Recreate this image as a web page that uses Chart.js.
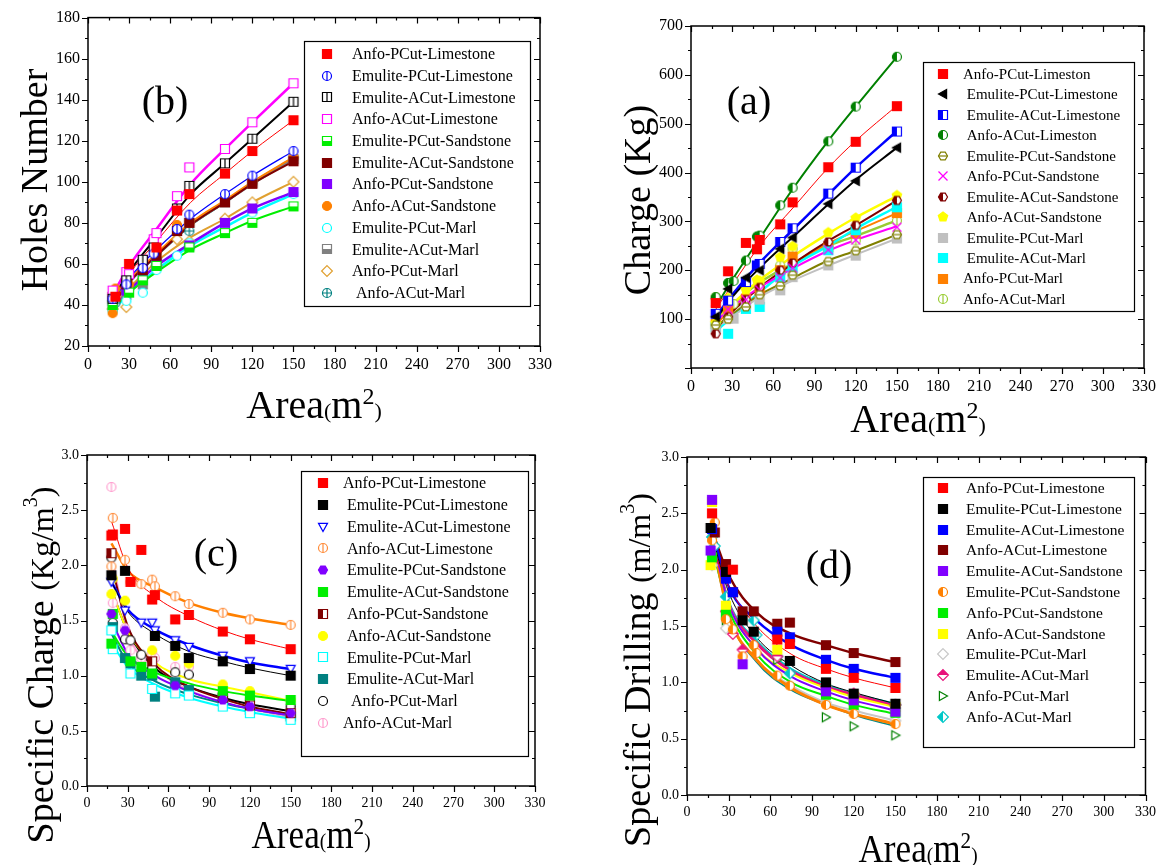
<!DOCTYPE html>
<html><head><meta charset="utf-8">
<script src="https://cdn.jsdelivr.net/npm/chart.js@4/dist/chart.umd.min.js"></script>
<style>
html,body{margin:0;padding:0;background:#fff;}
#wrap{position:relative;width:1165px;height:865px;overflow:hidden;background:#fff;}
canvas{position:absolute;left:0;top:0;width:1165px;height:865px;}
</style></head><body>
<div id="wrap">
<canvas id="cb" width="1165" height="865"></canvas>
<canvas id="ca" width="1165" height="865"></canvas>
<canvas id="cc" width="1165" height="865"></canvas>
<canvas id="cd" width="1165" height="865"></canvas>
</div>
<script>
// ---------------- shared ----------------
const FONT = '"Liberation Serif", "Times New Roman", serif';
const fitX = [18, 30, 50, 75, 100, 120, 150];
const xTickVals = [0, 15, 30, 45, 60, 75, 90, 105, 120, 135, 150, 165, 180, 195, 210, 225, 240, 255, 270, 285, 300, 315, 330];

// ---------------- (b) Holes Number ----------------
const bNames = ['Anfo-PCut-Limestone', 'Emulite-PCut-Limestone', 'Emulite-ACut-Limestone', 'Anfo-ACut-Limestone',
  'Emulite-PCut-Sandstone', 'Emulite-ACut-Sandstone', 'Anfo-PCut-Sandstone', 'Anfo-ACut-Sandstone',
  'Emulite-PCut-Marl', 'Emulite-ACut-Marl', 'Anfo-PCut-Marl', ' Anfo-ACut-Marl'];
const bX = [18, 20, 28, 30, 40, 48, 50, 65, 74, 100, 120, 150];
const bAnfoPCutLimestone     = [null, 44, null, 60, null, null, 68, 86, 94, 104, 115, 130];
const bEmulitePCutLimestone  = [43, null, 50, null, 58, 65, null, 77, 84, 94, 103, 115];
const bEmuliteACutLimestone  = [43, null, 52, null, 62, 68, null, 87, 98, 109, 121, 139];
const bAnfoACutLimestone     = [47, null, 56, 55, 62, 72, 75, 93, 107, 116, 129, 148];
const bEmulitePCutSandstone  = [40, null, null, 46, 52, null, 59, null, 68, 75, 80, 88];
const bEmuliteACutSandstone  = [44, null, 50, null, 57, null, 64, 76, 80, 90, 99, 110];
const bAnfoPCutSandstone     = [42, null, 47, null, 55, null, 60, null, 69, 80, 87, 95];
const bAnfoACutSandstone     = [36, 48, null, 50, 56, null, 65, 79, 80, 91, 100, 112];
const bEmulitePCutMarl       = [37, null, 42, null, 46, null, 57, 64, 70, 78, 85, 94];
const bEmuliteACutMarl       = [40, null, 45, null, 50, null, 61, 76, 80, 90, 99.5, 111];
const bAnfoPCutMarl          = [38, null, 39, null, null, null, 59, 72, 71, 82, 90, 100];
const bAnfoACutMarl          = [38, 41, null, 48, 53, 69, 62, 76, 76, 91, 99.5, 111.6];
const bFitAnfoPCutLimestone    = [42, 55, 71, 90, 104, 115, 130];
const bFitEmulitePCutLimestone = [42, 53, 67, 82, 94, 103, 115];
const bFitEmuliteACutLimestone = [43, 56, 73, 94, 109, 121, 139];
const bFitAnfoACutLimestone    = [45, 59, 77, 99, 116, 129, 148];
const bFitEmulitePCutSandstone = [38, 46, 56, 67, 75, 81, 88];
const bFitEmuliteACutSandstone = [40, 51, 64, 79, 90, 99, 110];
const bFitAnfoPCutSandstone    = [38, 47, 59, 70, 80, 87, 95];
const bFitAnfoACutSandstone    = [41, 52, 65, 80, 91, 100, 112];
const bFitEmulitePCutMarl      = [37, 46, 57, 69, 78, 85, 94];
const bFitEmuliteACutMarl      = [40, 51, 64, 79, 90, 99, 111];
const bFitAnfoPCutMarl         = [38, 48, 61, 73, 82, 90, 100];
const bFitAnfoACutMarl         = [40, 51, 64, 79, 90, 99.5, 111.5];
const bYTicks = [20, 30, 40, 50, 60, 70, 80, 90, 100, 110, 120, 130, 140, 150, 160, 170, 180];

// ---------------- (a) Charge ----------------
const aNames = ['Anfo-PCut-Limeston', ' Emulite-PCut-Limestone', ' Emulite-ACut-Limestone', ' Anfo-ACut-Limeston',
  ' Emulite-PCut-Sandstone', ' Anfo-PCut-Sandstone', ' Emulite-ACut-Sandstone', ' Anfo-ACut-Sandstone',
  ' Emulite-PCut-Marl', ' Emulite-ACut-Marl', 'Anfo-PCut-Marl', 'Anfo-ACut-Marl'];
const aX = [18, 27, 31, 40, 48, 50, 65, 74, 100, 120, 150];
const aAnfoPCutLimeston      = [133, 198, null, 256, 243, 262, 294, 339, 411, 463, 536];
const aEmulitePCutLimestone  = [105, 162, null, 185, null, 200, 244, 267, 336, 383, 451];
const aEmuliteACutLimestone  = [111, 138, null, 176, 210, 213, 258, 286, 357, 410, 484];
const aAnfoACutLimeston      = [145, 174, 178, 220, 269, 271, 333, 369, 464, 535, 637];
const aEmulitePCutSandstone  = [88, 100, null, 125, null, 150, 168, 190, 218, 240, 273];
const aAnfoPCutSandstone     = [135, 120, null, 140, null, 160, 185, 205, 242, 262, 288];
const aEmuliteACutSandstone  = [70, 105, null, 140, null, 165, 200, 215, 258, 292, 343];
const aAnfoACutSandstone     = [92, 143, null, 160, 180, 178, 227, 249, 277, 307, 353];
const aEmulitePCutMarl       = [80, 101, 101, 130, null, 140, 159, 186, 210, 230, 265];
const aEmuliteACutMarl       = [84, 70, null, 121, null, 125, 186, 203, 241, 282, 329];
const aAnfoPCutMarl          = [90, 118, null, 142, null, 159, 200, 228, 247, 275, 317];
const aAnfoACutMarl          = [145, 123, 131, 140, null, 174, 210, 244, 249, 261, 302];
const aFitAnfoPCutLimeston     = [120, 170, 250, 330, 410, 465, 537];
const aFitEmulitePCutLimestone = [100, 145, 205, 270, 335, 385, 451];
const aFitEmuliteACutLimestone = [105, 150, 215, 285, 355, 410, 485];
const aFitAnfoACutLimeston     = [125, 180, 265, 370, 465, 535, 637];
const aFitEmulitePCutSandstone = [85, 110, 150, 185, 220, 240, 273];
const aFitAnfoPCutSandstone    = [95, 125, 165, 205, 240, 262, 290];
const aFitEmuliteACutSandstone = [80, 115, 165, 215, 260, 292, 343];
const aFitAnfoACutSandstone    = [95, 130, 180, 230, 275, 308, 352];
const aFitEmulitePCutMarl      = [82, 105, 145, 180, 210, 232, 265];
const aFitEmuliteACutMarl      = [75, 105, 155, 210, 250, 285, 330];
const aFitAnfoPCutMarl         = [90, 120, 165, 215, 255, 280, 317];
const aFitAnfoACutMarl         = [100, 130, 175, 215, 250, 270, 302];
const aYTicks = [0, 50, 100, 150, 200, 250, 300, 350, 400, 450, 500, 550, 600, 650, 700];

// ---------------- (c) Specific Charge ----------------
const cNames = ['Anfo-PCut-Limestone', ' Emulite-PCut-Limestone', ' Emulite-ACut-Limestone', ' Anfo-ACut-Limestone',
  ' Emulite-PCut-Sandstone', ' Emulite-ACut-Sandstone', ' Anfo-PCut-Sandstone', ' Anfo-ACut-Sandstone',
  ' Emulite-PCut-Marl', ' Emulite-ACut-Marl', '  Anfo-PCut-Marl', 'Anfo-ACut-Marl'];
const cX = [18, 19, 28, 32, 40, 48, 50, 65, 75, 100, 120, 150];
const cAnfoPCutLimestone     = [2.27, 2.28, 2.33, 1.85, 2.14, 1.69, 1.73, 1.51, 1.55, 1.40, 1.33, 1.24];
const cEmulitePCutLimestone  = [1.91, null, 1.95, null, null, null, 1.36, 1.27, 1.16, 1.13, 1.06, 1.00];
const cEmuliteACutLimestone  = [1.85, null, 1.59, null, 1.48, 1.48, 1.41, 1.32, 1.26, 1.18, 1.13, 1.06];
const cAnfoACutLimestone     = [1.99, 2.43, 2.05, 1.85, 1.83, 1.87, 1.81, 1.72, 1.65, 1.57, 1.51, 1.46];
const cEmulitePCutSandstone  = [1.56, null, 1.41, null, null, null, null, 0.91, null, 0.78, 0.72, 0.66];
const cEmuliteACutSandstone  = [1.29, 1.56, null, 1.13, 1.08, 1.02, null, null, null, 0.86, 0.82, 0.78];
const cAnfoPCutSandstone     = [2.11, null, null, null, null, 1.13, null, null, null, 0.80, 0.73, 0.66];
const cAnfoACutSandstone     = [1.74, 1.88, 1.68, null, null, 1.23, null, 1.18, 1.11, 0.92, 0.86, 0.78];
const cEmulitePCutMarl       = [1.41, 1.24, null, 1.02, null, 0.88, null, 0.84, 0.82, 0.72, 0.66, 0.60];
const cEmuliteACutMarl       = [null, 1.44, 1.16, 1.11, 1.00, 1.00, 0.81, 0.94, 0.87, 0.77, 0.69, 0.63];
const cAnfoPCutMarl          = [2.07, 1.48, 1.33, 1.32, 1.19, 1.07, null, 1.03, 1.01, 0.83, 0.78, 0.72];
const cAnfoACutMarl          = [2.71, 1.66, 1.43, 1.23, 1.16, 1.20, 1.16, 1.08, 1.08, 0.82, 0.75, 0.67];
const cFitAnfoPCutLimestone    = [2.40, 1.98, 1.72, 1.54, 1.41, 1.33, 1.24];
const cFitEmulitePCutLimestone = [1.85, 1.58, 1.38, 1.22, 1.13, 1.07, 1.00];
const cFitEmuliteACutLimestone = [1.85, 1.60, 1.42, 1.28, 1.18, 1.12, 1.06];
const cFitAnfoACutLimestone    = [2.20, 1.95, 1.80, 1.66, 1.57, 1.52, 1.46];
const cFitEmulitePCutSandstone = [1.50, 1.20, 1.00, 0.86, 0.76, 0.70, 0.64];
const cFitEmuliteACutSandstone = [1.40, 1.18, 1.03, 0.93, 0.86, 0.82, 0.77];
const cFitAnfoPCutSandstone    = [2.00, 1.45, 1.10, 0.90, 0.79, 0.72, 0.65];
const cFitAnfoACutSandstone    = [1.78, 1.40, 1.12, 0.97, 0.90, 0.85, 0.77];
const cFitEmulitePCutMarl      = [1.30, 1.08, 0.92, 0.80, 0.72, 0.67, 0.61];
const cFitEmuliteACutMarl      = [1.38, 1.12, 0.95, 0.83, 0.75, 0.70, 0.64];
const cFitAnfoPCutMarl         = [1.78, 1.40, 1.07, 0.90, 0.80, 0.74, 0.68];
const cFitAnfoACutMarl         = [2.10, 1.40, 1.07, 0.87, 0.76, 0.70, 0.62];
const sYTicks = [0, 0.25, 0.5, 0.75, 1, 1.25, 1.5, 1.75, 2, 2.25, 2.5, 2.75, 3];

// ---------------- (d) Specific Drilling ----------------
const dNames = ['Anfo-PCut-Limestone', 'Emulite-PCut-Limestone', 'Emulite-ACut-Limestone', 'Anfo-ACut-Limestone',
  'Emulite-ACut-Sandstone', 'Emulite-PCut-Sandstone', 'Anfo-PCut-Sandstone', 'Anfo-ACut-Sandstone',
  'Emulite-PCut-Marl', 'Emulite-ACut-Marl', 'Anfo-PCut-Marl', 'Anfo-ACut-Marl'];
const dX = [17, 18, 20, 28, 33, 40, 48, 50, 65, 74, 100, 120, 150];
const dAnfoPCutLimestone     = [null, 2.50, null, null, 2.00, null, null, null, 1.38, 1.34, 1.12, 1.04, 0.95];
const dEmulitePCutLimestone  = [2.37, null, null, 1.98, null, 1.55, 1.45, null, null, 1.19, 1.00, 0.90, 0.81];
const dEmuliteACutLimestone  = [null, 2.36, null, 1.92, 1.80, null, null, null, 1.45, 1.40, 1.20, 1.12, 1.04];
const dAnfoACutLimestone     = [null, null, 2.33, 2.05, 1.80, 1.63, 1.63, null, 1.52, 1.53, 1.33, 1.26, 1.18];
const dEmuliteACutSandstone  = [2.17, 2.62, null, null, null, 1.16, null, null, null, null, 0.92, 0.84, 0.74];
const dEmulitePCutSandstone  = [null, 2.26, 2.42, 1.56, 1.47, 1.23, 1.33, 1.26, 1.06, 0.97, 0.80, 0.72, 0.63];
const dAnfoPCutSandstone     = [null, 2.11, null, 1.60, null, null, null, null, null, null, 0.89, 0.80, 0.73];
const dAnfoACutSandstone     = [2.04, 2.60, null, 1.68, null, null, null, null, 1.29, null, 0.95, 0.87, 0.78];
const dEmulitePCutMarl       = [null, 2.04, null, 1.48, null, null, null, null, null, null, 0.82, 0.75, 0.66];
const dEmuliteACutMarl       = [null, null, null, 1.63, 1.43, 1.29, null, null, 1.23, null, 0.96, 0.90, 0.80];
const dAnfoPCutMarl          = [null, null, null, 1.55, null, null, null, null, 1.20, null, 0.69, 0.61, 0.53];
const dAnfoACutMarl          = [null, 2.29, 2.21, 1.76, null, null, 1.55, 1.42, 1.23, 1.08, 0.97, 0.89, 0.80];
const dFitAnfoPCutLimestone    = [2.20, 1.85, 1.50, 1.25, 1.12, 1.04, 0.95];
const dFitEmulitePCutLimestone = [2.30, 1.80, 1.40, 1.15, 0.99, 0.91, 0.81];
const dFitEmuliteACutLimestone = [2.35, 1.85, 1.55, 1.33, 1.20, 1.12, 1.04];
const dFitAnfoACutLimestone    = [2.35, 1.95, 1.62, 1.43, 1.33, 1.26, 1.18];
const dFitEmuliteACutSandstone = [2.30, 1.70, 1.30, 1.05, 0.92, 0.84, 0.75];
const dFitEmulitePCutSandstone = [2.30, 1.60, 1.20, 0.95, 0.80, 0.72, 0.63];
const dFitAnfoPCutSandstone    = [2.20, 1.65, 1.25, 1.00, 0.88, 0.80, 0.72];
const dFitAnfoACutSandstone    = [2.30, 1.70, 1.30, 1.08, 0.95, 0.87, 0.78];
const dFitEmulitePCutMarl      = [2.25, 1.60, 1.20, 0.97, 0.82, 0.75, 0.66];
const dFitEmuliteACutMarl      = [2.30, 1.70, 1.35, 1.10, 0.96, 0.89, 0.79];
const dFitAnfoPCutMarl         = [2.30, 1.60, 1.18, 0.93, 0.80, 0.71, 0.61];
const dFitAnfoACutMarl         = [2.30, 1.72, 1.37, 1.12, 0.98, 0.90, 0.81];

// ---------------- styles ----------------
const bStyles = [
  {m:['sq','f',''], c:'#ff0000', lw:1}, {m:['ci','o','v'], c:'#0000ff', lw:1.2},
  {m:['sq','o','v'], c:'#000000', lw:2}, {m:['sq','o',''], c:'#ff00ff', lw:2.5},
  {m:['sq','hB',''], c:'#00ee00', lw:2}, {m:['sq','f',''], c:'#800000', lw:2},
  {m:['sq','f',''], c:'#8000ff', lw:2.5}, {m:['ci','f',''], c:'#ff8000', lw:2},
  {m:['ci','o',''], c:'#00ffff', lw:2.5}, {m:['sq','hB',''], c:'#808080', lw:2.5},
  {m:['di','o',''], c:'#e0a030', lw:2}, {m:['ci','o','vh'], c:'#008080', lw:2.5}];
const aStyles = [
  {m:['sq','f',''], c:'#ff0000', lw:1}, {m:['tL','f',''], c:'#000000', lw:2},
  {m:['sq','hL',''], c:'#0000ff', lw:2.5}, {m:['ci','hL',''], c:'#008000', lw:2},
  {m:['hex','o','h'], c:'#808000', lw:2}, {m:['x','o',''], c:'#ff00ff', lw:2},
  {m:['hex','hL',''], c:'#800000', lw:2}, {m:['pent','f',''], c:'#ffff00', lw:2.5},
  {m:['sq','f',''], c:'#c0c0c0', lw:2}, {m:['sq','f',''], c:'#00ffff', lw:2.5},
  {m:['sq','f',''], c:'#ff8000', lw:2}, {m:['ci','o','v'], c:'#99cc33', lw:2.5}];
const cStyles = [
  {m:['sq','f',''], c:'#ff0000', lw:1}, {m:['sq','f',''], c:'#000000', lw:1},
  {m:['tD','o',''], c:'#0000ff', lw:2.5}, {m:['ci','o','v'], c:'#ff8c3a', lc:'#ff8000', lw:2.5},
  {m:['hex','f',''], c:'#8000ff', lw:2}, {m:['sq','f',''], c:'#00ee00', lw:2},
  {m:['sq','hL',''], c:'#800000', lw:2}, {m:['ci','f',''], c:'#ffff00', lw:2},
  {m:['sq','o',''], c:'#00ffff', lw:2}, {m:['sq','f',''], c:'#008080', lw:2},
  {m:['ci','o',''], c:'#000000', lw:2}, {m:['ci','o','v'], c:'#ff9ecf', lw:2}];
const dStyles = [
  {m:['sq','f',''], c:'#ff0000', lw:1}, {m:['sq','f',''], c:'#000000', lw:1},
  {m:['sq','f',''], c:'#0000ff', lw:2.5}, {m:['sq','f',''], c:'#800000', lw:2.5},
  {m:['sq','f',''], c:'#8000ff', lw:2}, {m:['ci','hL',''], c:'#ff8000', lw:3},
  {m:['sq','f',''], c:'#00ee00', lw:2}, {m:['sq','f',''], c:'#ffff00', lw:2},
  {m:['di','o',''], c:'#c8c8c8', lw:2}, {m:['di','hT',''], c:'#e8127c', lw:3},
  {m:['tR','o',''], c:'#008000', lc:'#008b8b', lw:1.5}, {m:['di','hL',''], c:'#00c8c8', lw:2}];

// ---------------- helpers ----------------
function makeMarker(spec, color, size) {
  const [shape, fill, deco] = spec;
  size = size || 9;
  const S = Math.ceil(size + 5);
  const c = document.createElement('canvas');
  c.width = S; c.height = S;
  const g = c.getContext('2d');
  const cx = S / 2, cy = S / 2, r = size / 2;
  const path = () => {
    g.beginPath();
    if (shape === 'sq') g.rect(cx - r, cy - r, 2 * r, 2 * r);
    else if (shape === 'ci') g.arc(cx, cy, r, 0, Math.PI * 2);
    else if (shape === 'di') { const q = r * 1.2; g.moveTo(cx, cy - q); g.lineTo(cx + q, cy); g.lineTo(cx, cy + q); g.lineTo(cx - q, cy); g.closePath(); }
    else if (shape === 'tD') { g.moveTo(cx - r, cy - r * 0.8); g.lineTo(cx + r, cy - r * 0.8); g.lineTo(cx, cy + r); g.closePath(); }
    else if (shape === 'tL') { g.moveTo(cx - r, cy); g.lineTo(cx + r * 0.8, cy - r); g.lineTo(cx + r * 0.8, cy + r); g.closePath(); }
    else if (shape === 'tR') { g.moveTo(cx + r, cy); g.lineTo(cx - r * 0.8, cy - r); g.lineTo(cx - r * 0.8, cy + r); g.closePath(); }
    else if (shape === 'hex') { for (let i = 0; i < 6; i++) { const a = Math.PI / 3 * i; const px = cx + r * Math.cos(a), py = cy + r * Math.sin(a); if (i) g.lineTo(px, py); else g.moveTo(px, py); } g.closePath(); }
    else if (shape === 'pent') { for (let i = 0; i < 5; i++) { const a = -Math.PI / 2 + 2 * Math.PI / 5 * i; const px = cx + r * 1.1 * Math.cos(a), py = cy + r * 1.1 * Math.sin(a); if (i) g.lineTo(px, py); else g.moveTo(px, py); } g.closePath(); }
  };
  g.lineWidth = 1.2; g.strokeStyle = color;
  if (shape === 'x') {
    g.lineWidth = 1.3; g.beginPath();
    g.moveTo(cx - r, cy - r); g.lineTo(cx + r, cy + r); g.moveTo(cx + r, cy - r); g.lineTo(cx - r, cy + r);
    g.stroke(); return c;
  }
  path();
  if (fill === 'f') { g.fillStyle = color; g.fill(); }
  else {
    g.fillStyle = '#fff'; g.fill();
    if (fill !== 'o') {
      g.save(); path(); g.clip(); g.fillStyle = color;
      if (fill === 'hL') g.fillRect(0, 0, cx, S);
      if (fill === 'hR') g.fillRect(cx, 0, S, S);
      if (fill === 'hT') g.fillRect(0, 0, S, cy);
      if (fill === 'hB') g.fillRect(0, cy, S, S);
      g.restore();
    }
  }
  path(); g.stroke();
  if (deco) {
    g.beginPath();
    if (deco.includes('v')) { g.moveTo(cx, cy - r); g.lineTo(cx, cy + r); }
    if (deco.includes('h')) { g.moveTo(cx - r, cy); g.lineTo(cx + r, cy); }
    g.stroke();
  }
  return c;
}

function buildDatasets(X, ys, fits, styles, names) {
  const ds = [], legendItems = [];
  ys.forEach((Y, i) => {
    const st = styles[i];
    const img = makeMarker(st.m, st.c, 9);
    legendItems.push({img, text: names[i]});
    const pts = [];
    X.forEach((x, k) => { if (Y[k] !== null) pts.push({x, y: Y[k]}); });
    ds.push({label: names[i].trim(), data: pts, showLine: false, pointStyle: img, pointRadius: 5, order: 1});
    ds.push({label: names[i].trim() + ' fit', data: fitX.map((x, k) => ({x, y: fits[i][k]})), showLine: true,
      borderColor: st.lc || st.c, borderWidth: st.lw, pointRadius: 0, cubicInterpolationMode: 'monotone', fill: false, order: 2});
  });
  return {ds, legendItems};
}

function drawRuns(ctx, runs, x, y, rotate, sx) {
  ctx.save();
  ctx.translate(x, y);
  if (rotate) ctx.rotate(-Math.PI / 2);
  if (sx) ctx.scale(sx, 1);
  let total = 0;
  runs.forEach(r => { ctx.font = r.s + 'px ' + FONT; r.w = ctx.measureText(r.t).width; total += r.w; });
  let cx = -total / 2;
  ctx.textBaseline = 'alphabetic'; ctx.textAlign = 'left'; ctx.fillStyle = '#000';
  runs.forEach(r => { ctx.font = r.s + 'px ' + FONT; ctx.fillText(r.t, cx, r.dy || 0); cx += r.w; });
  ctx.restore();
}

function decoPlugin(id, cfg) {
  return {
    id,
    afterDraw(chart) {
      const ctx = chart.ctx, a = chart.chartArea;
      ctx.save();
      ctx.strokeStyle = '#000'; ctx.lineWidth = 1.5;
      ctx.strokeRect(a.left, a.top, a.right - a.left, a.bottom - a.top);
      ctx.lineWidth = 1.2;
      ctx.beginPath();
      const xs = chart.scales.x, ys = chart.scales.y;
      xs.ticks.forEach(t => {
        const px = Math.round(xs.getPixelForValue(t.value)) + 0.5;
        const len = cfg.xMajor(t.value) ? 6 : 3;
        ctx.moveTo(px, a.bottom); ctx.lineTo(px, a.bottom + len);
        ctx.moveTo(px, a.top); ctx.lineTo(px, a.top + len);
      });
      ys.ticks.forEach(t => {
        const py = Math.round(ys.getPixelForValue(t.value)) + 0.5;
        const len = cfg.yMajor(t.value) ? 6 : 3;
        ctx.moveTo(a.left - len, py); ctx.lineTo(a.left, py);
        ctx.moveTo(a.right - len, py); ctx.lineTo(a.right, py);
      });
      ctx.stroke();
      const L = cfg.legend;
      ctx.fillStyle = '#fff';
      ctx.fillRect(L.box[0], L.box[1], L.box[2] - L.box[0], L.box[3] - L.box[1]);
      ctx.strokeStyle = '#000'; ctx.lineWidth = 1.2;
      ctx.strokeRect(L.box[0] + 0.5, L.box[1] + 0.5, L.box[2] - L.box[0], L.box[3] - L.box[1]);
      ctx.font = L.font + 'px ' + FONT; ctx.fillStyle = '#000';
      ctx.textBaseline = 'middle'; ctx.textAlign = 'left';
      L.items.forEach((it, i) => {
        const y = L.y0 + i * L.dy;
        ctx.drawImage(it.img, Math.round(L.mx - it.img.width / 2), Math.round(y - it.img.height / 2));
        ctx.fillText(it.text, L.tx, y + 1);
      });
      ctx.font = '40px ' + FONT; ctx.textAlign = 'center'; ctx.textBaseline = 'middle';
      ctx.fillText(cfg.panel[0], cfg.panel[1], cfg.panel[2]);
      drawRuns(ctx, cfg.xTitle, cfg.xPos[0], cfg.xPos[1], false, cfg.sx);
      drawRuns(ctx, cfg.yTitle, cfg.yPos[0], cfg.yPos[1], true, cfg.sy);
      ctx.restore();
    }
  };
}

function isMult(v, m) { return Math.abs(v / m - Math.round(v / m)) < 1e-6; }

function makeChart(canvasId, p) {
  const {ds, legendItems} = buildDatasets(p.X, p.ys, p.fits, p.styles, p.names);
  const cfg = Object.assign({}, p.deco);
  cfg.legend = Object.assign({items: legendItems}, p.deco.legend);
  cfg.xMajor = v => isMult(v, 30);
  cfg.yMajor = p.yMajor;
  return new Chart(document.getElementById(canvasId), {
    type: 'scatter',
    data: {datasets: ds},
    options: {
      responsive: false, animation: false, events: [], devicePixelRatio: 1,
      layout: {padding: {left: 0, top: p.area.T, right: 1165 - p.area.R, bottom: 0}},
      scales: {
        x: {type: 'linear', min: 0, max: 330,
          afterFit: s => { s.height = 865 - p.area.B; },
          afterBuildTicks: s => { s.ticks = xTickVals.map(v => ({value: v})); },
          ticks: {autoSkip: false, maxRotation: 0, minRotation: 0, padding: p.xPad, color: '#000',
            font: {family: FONT, size: p.tickFont}, callback: v => isMult(v, 30) ? String(v) : ''},
          grid: {display: false, drawTicks: false}, border: {display: false}},
        y: {type: 'linear', min: p.yMin, max: p.yMax,
          afterFit: s => { s.width = p.area.L; },
          afterBuildTicks: s => { s.ticks = p.yTicks.map(v => ({value: v})); },
          ticks: {autoSkip: false, padding: 8, color: '#000',
            font: {family: FONT, size: p.tickFont}, callback: p.yLabel},
          grid: {display: false, drawTicks: false}, border: {display: false}}
      },
      plugins: {legend: {display: false}, tooltip: {enabled: false}}
    },
    plugins: [decoPlugin('deco_' + canvasId, cfg)]
  });
}

const areaRuns = (big, small, sup) => [
  {t: 'Area', s: big}, {t: '(', s: small}, {t: 'm', s: big}, {t: '2', s: sup, dy: -Math.round(big * 0.36)}, {t: ')', s: small}];

makeChart('cb', {
  X: bX,
  ys: [bAnfoPCutLimestone, bEmulitePCutLimestone, bEmuliteACutLimestone, bAnfoACutLimestone, bEmulitePCutSandstone, bEmuliteACutSandstone,
       bAnfoPCutSandstone, bAnfoACutSandstone, bEmulitePCutMarl, bEmuliteACutMarl, bAnfoPCutMarl, bAnfoACutMarl],
  fits: [bFitAnfoPCutLimestone, bFitEmulitePCutLimestone, bFitEmuliteACutLimestone, bFitAnfoACutLimestone, bFitEmulitePCutSandstone, bFitEmuliteACutSandstone,
         bFitAnfoPCutSandstone, bFitAnfoACutSandstone, bFitEmulitePCutMarl, bFitEmuliteACutMarl, bFitAnfoPCutMarl, bFitAnfoACutMarl],
  styles: bStyles, names: bNames,
  area: {L: 88, R: 540, T: 16, B: 346},
  yMin: 20, yMax: 180, yTicks: bYTicks,
  yMajor: v => isMult(v, 20), yLabel: v => isMult(v, 20) ? String(v) : '',
  tickFont: 16, xPad: 9,
  deco: {panel: ['(b)', 165, 103],
    legend: {box: [304, 41, 530, 306], mx: 327, tx: 352, y0: 54, dy: 21.7, font: 16},
    xTitle: areaRuns(40, 22, 24), xPos: [314, 418],
    yTitle: [{t: 'Holes Number', s: 38}], yPos: [47, 180]}
});

makeChart('ca', {
  X: aX,
  ys: [aAnfoPCutLimeston, aEmulitePCutLimestone, aEmuliteACutLimestone, aAnfoACutLimeston, aEmulitePCutSandstone, aAnfoPCutSandstone,
       aEmuliteACutSandstone, aAnfoACutSandstone, aEmulitePCutMarl, aEmuliteACutMarl, aAnfoPCutMarl, aAnfoACutMarl],
  fits: [aFitAnfoPCutLimeston, aFitEmulitePCutLimestone, aFitEmuliteACutLimestone, aFitAnfoACutLimeston, aFitEmulitePCutSandstone, aFitAnfoPCutSandstone,
         aFitEmuliteACutSandstone, aFitAnfoACutSandstone, aFitEmulitePCutMarl, aFitEmuliteACutMarl, aFitAnfoPCutMarl, aFitAnfoACutMarl],
  styles: aStyles, names: aNames,
  area: {L: 691, R: 1146, T: 26, B: 368},
  yMin: 0, yMax: 700, yTicks: aYTicks,
  yMajor: v => isMult(v, 100), yLabel: v => (isMult(v, 100) && v !== 0) ? String(v) : '',
  tickFont: 16, xPad: 9,
  deco: {panel: ['(a)', 749, 103],
    legend: {box: [923, 62, 1134, 311], mx: 943, tx: 963, y0: 74, dy: 20.45, font: 15},
    xTitle: areaRuns(40, 22, 24), xPos: [918, 432],
    yTitle: [{t: 'Charge (Kg)', s: 38}], yPos: [650, 200]}
});

makeChart('cc', {
  X: cX,
  ys: [cAnfoPCutLimestone, cEmulitePCutLimestone, cEmuliteACutLimestone, cAnfoACutLimestone, cEmulitePCutSandstone, cEmuliteACutSandstone,
       cAnfoPCutSandstone, cAnfoACutSandstone, cEmulitePCutMarl, cEmuliteACutMarl, cAnfoPCutMarl, cAnfoACutMarl],
  fits: [cFitAnfoPCutLimestone, cFitEmulitePCutLimestone, cFitEmuliteACutLimestone, cFitAnfoACutLimestone, cFitEmulitePCutSandstone, cFitEmuliteACutSandstone,
         cFitAnfoPCutSandstone, cFitAnfoACutSandstone, cFitEmulitePCutMarl, cFitEmuliteACutMarl, cFitAnfoPCutMarl, cFitAnfoACutMarl],
  styles: cStyles, names: cNames,
  area: {L: 87, R: 535, T: 455, B: 786},
  yMin: 0, yMax: 3, yTicks: sYTicks,
  yMajor: v => isMult(v, 0.5), yLabel: v => isMult(v, 0.5) ? v.toFixed(1) : '',
  tickFont: 14, xPad: 9,
  deco: {panel: ['(c)', 216, 555],
    legend: {box: [301, 471, 528, 756], mx: 323, tx: 343, y0: 483, dy: 21.8, font: 16},
    xTitle: areaRuns(40, 22, 24), xPos: [311, 848], sx: 0.88,
    yTitle: [{t: 'Specific Charge ', s: 38}, {t: '(Kg/m', s: 32}, {t: '3', s: 20, dy: -16}, {t: ')', s: 32}], yPos: [53, 665]}
});

makeChart('cd', {
  X: dX,
  ys: [dAnfoPCutLimestone, dEmulitePCutLimestone, dEmuliteACutLimestone, dAnfoACutLimestone, dEmuliteACutSandstone, dEmulitePCutSandstone,
       dAnfoPCutSandstone, dAnfoACutSandstone, dEmulitePCutMarl, dEmuliteACutMarl, dAnfoPCutMarl, dAnfoACutMarl],
  fits: [dFitAnfoPCutLimestone, dFitEmulitePCutLimestone, dFitEmuliteACutLimestone, dFitAnfoACutLimestone, dFitEmuliteACutSandstone, dFitEmulitePCutSandstone,
         dFitAnfoPCutSandstone, dFitAnfoACutSandstone, dFitEmulitePCutMarl, dFitEmuliteACutMarl, dFitAnfoPCutMarl, dFitAnfoACutMarl],
  styles: dStyles, names: dNames,
  area: {L: 687, R: 1147, T: 457, B: 795},
  yMin: 0, yMax: 3, yTicks: sYTicks,
  yMajor: v => isMult(v, 0.5), yLabel: v => isMult(v, 0.5) ? v.toFixed(1) : '',
  tickFont: 14, xPad: 9,
  deco: {panel: ['(d)', 829, 567],
    legend: {box: [923, 477, 1134, 747], mx: 943, tx: 966, y0: 488, dy: 20.8, font: 15.5},
    xTitle: areaRuns(40, 22, 24), xPos: [918, 862], sx: 0.88,
    yTitle: [{t: 'Specific Drilling ', s: 38}, {t: '(m/m', s: 32}, {t: '3', s: 20, dy: -16}, {t: ')', s: 32}], yPos: [650, 670]}
});
</script>
</body></html>
